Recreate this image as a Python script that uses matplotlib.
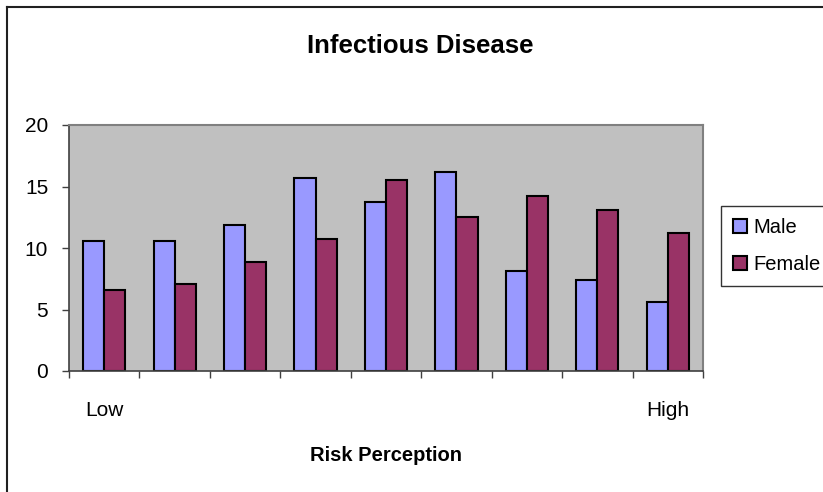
import numpy as np
import matplotlib.pyplot as plt
from matplotlib.lines import Line2D

plt.rcParams['font.family'] = ['Liberation Sans', 'DejaVu Sans']

categories = ["Low", "", "", "", "", "", "", "", "High"]
male = [10.6, 10.6, 11.9, 15.7, 13.7, 16.2, 8.1, 7.4, 5.6]
female = [6.6, 7.1, 8.9, 10.7, 15.5, 12.5, 14.2, 13.1, 11.2]
yticks = [0, 5, 10, 15, 20]

W, H = 823, 492
fig = plt.figure(figsize=(W / 100, H / 100), dpi=100)
ax = fig.add_axes([69 / W, 1 - 371 / H, (703 - 69) / W, (371 - 125) / H])
ax.set_facecolor("#C0C0C0")

x = np.arange(len(categories))
w = 0.3
ax.bar(x - w / 2, male, w, color="#9999FF", edgecolor="black", linewidth=1.5, label="Male")
ax.bar(x + w / 2, female, w, color="#993366", edgecolor="black", linewidth=1.5, label="Female")

ax.set_xlim(-0.5, len(categories) - 0.5)
ax.set_ylim(0, 20)
ax.set_yticks(yticks)
ax.set_xticks(x)
ax.set_xticklabels(categories)
ax.set_xticks(np.arange(len(categories) + 1) - 0.5, minor=True)
ax.tick_params(axis="x", which="major", length=0, pad=21.5, labelsize=15)
ax.tick_params(axis="x", which="minor", length=5, width=1, color="#404040", direction="out")
ax.tick_params(axis="y", length=5, width=1, color="#404040", pad=10, labelsize=15)

for s in ["top", "right"]:
    ax.spines[s].set_color("#808080")
    ax.spines[s].set_linewidth(1.5)
for s in ["left", "bottom"]:
    ax.spines[s].set_color("#404040")
    ax.spines[s].set_linewidth(1.2)

ax.set_title("Infectious Disease", fontsize=18.5, fontweight="bold", pad=0,
             x=(420 - 69) / (703 - 69), y=(371 - 46) / (371 - 125), va="center")
ax.set_xlabel("Risk Perception", fontsize=14.5, fontweight="bold", labelpad=19)

leg = fig.legend(loc="upper left", bbox_to_anchor=(721 / W, 1 - 206 / H),
                 fontsize=14.5, frameon=True, fancybox=False, edgecolor="black",
                 handlelength=0.7, handleheight=0.7, handletextpad=0.3,
                 borderpad=0.6, labelspacing=0.9, borderaxespad=0)
leg.get_frame().set_linewidth(1)

# outer chart frame (top and left edges)
fig.add_artist(Line2D([6.5 / W, 1], [1 - 6.5 / H] * 2, color="#202020", lw=1.5))
fig.add_artist(Line2D([6.5 / W] * 2, [0, 1 - 6.5 / H], color="#202020", lw=1.5))

fig.savefig("out.png", dpi=100)
